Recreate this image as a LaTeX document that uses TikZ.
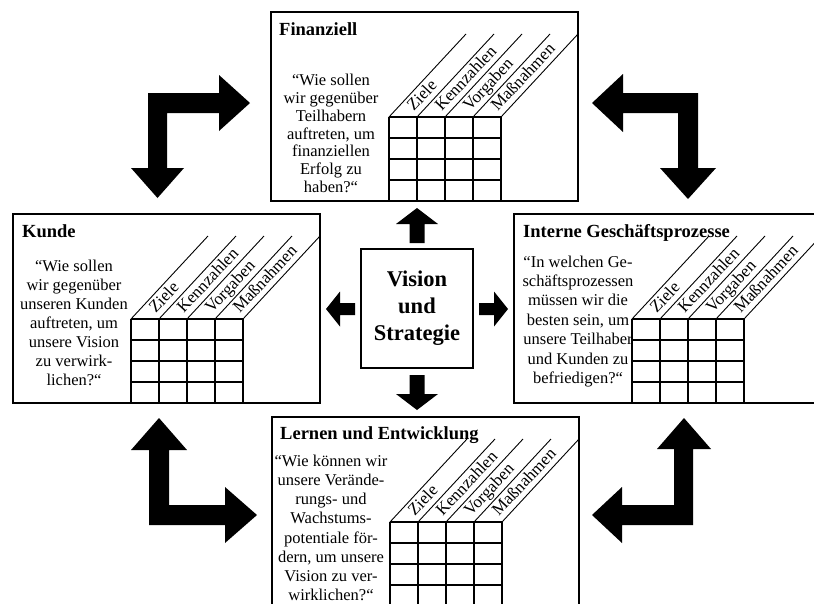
\documentclass[tikz,border=0pt]{standalone}
\usepackage{fontspec}
\setmainfont{Liberation Serif}
\begin{document}
\begin{tikzpicture}[x=1pt, y=-1pt,
        panel/.style={draw=black, line width=1.8pt},
        gridline/.style={draw=black, line width=1.8pt},
        slant/.style={draw=black, line width=0.9pt},
        colhead/.style={anchor=base west, inner sep=0pt, rotate=47, font=\fontsize{17}{18}\selectfont},
        paneltitle/.style={anchor=base west, inner sep=0pt, font=\bfseries\fontsize{18.5}{22}\selectfont},
        question/.style={anchor=north, inner sep=0pt, align=center},
        blockarrow/.style={fill=black},
        visionbox/.style={draw=black, line width=2pt, minimum width=112pt, minimum height=119pt, align=center, font=\bfseries\fontsize{22.5}{27}\selectfont}]
    \useasboundingbox (0,0) rectangle (814,603);
    \clip (0,0) rectangle (814,603);
    % the four perspectives with their tables
    \foreach \bx/\by in {271/12, 13/214, 514/214, 272/417}{
        \draw[panel] (\bx,\by) rectangle ++(307,189);
        \foreach \c in {0,...,4}{
            \draw[gridline] (\bx+118+28*\c,\by+105) -- ++(0,84);
            \draw[slant] (\bx+118+28*\c,\by+105) -- ++(77,-83);
        }
        \foreach \r in {0,...,4}
            \draw[gridline] (\bx+118,\by+105+21*\r) -- ++(112,0);
        \foreach \lab [count=\c from 0] in {Ziele,Kennzahlen,Vorgaben,Maßnahmen}
            \node[colhead] (head-\bx-\c) at (\bx+142.8+28*\c,\by+100) {\lab};
    }
    \node[paneltitle] (fintitle) at (279,35) {Finanziell};
    \node[paneltitle] (kundetitle) at (22,237) {Kunde};
    \node[paneltitle] (prozesstitle) at (523,237) {Interne Geschäftsprozesse};
    \node[paneltitle] (lerntitle) at (280,439) {Lernen und Entwicklung};
    \node[question, font=\fontsize{16.5}{17.9}\selectfont] (finq) at (331,73.7)
        {“Wie sollen\\wir gegenüber\\Teilhabern\\auftreten, um\\finanziellen\\Erfolg zu\\haben?“};
    \node[question, font=\fontsize{16.5}{19}\selectfont] (kundeq) at (74,259.4)
        {“Wie sollen\\wir gegenüber\\unseren Kunden\\auftreten, um\\unsere Vision\\zu verwirk-\\lichen?“};
    \node[question, font=\fontsize{16.5}{19.4}\selectfont] (prozessq) at (578,255.4)
        {“In welchen Ge-\\schäftsprozessen\\müssen wir die\\besten sein, um\\unsere Teilhaber\\und Kunden zu\\befriedigen?“};
    \node[question, font=\fontsize{16.5}{19.2}\selectfont] (lernq) at (331,454.7)
        {“Wie können wir\\unsere Verände-\\rungs- und\\Wachstums-\\potentiale för-\\dern, um unsere\\Vision zu ver-\\wirklichen?“};
    % centre
    \node[visionbox] (vision) at (417,308.5) {Vision\\und\\Strategie};
    \fill[blockarrow] (409.5,243) -- (409.5,224) -- (396,224) -- (417,208) -- (438,224) -- (424.5,224) -- (424.5,243) -- cycle;
    \fill[blockarrow] (409.5,375) -- (409.5,394) -- (396,394) -- (417,410) -- (438,394) -- (424.5,394) -- (424.5,375) -- cycle;
    \fill[blockarrow] (355,303) -- (340,303) -- (340,291.5) -- (326,309) -- (340,326.5) -- (340,315) -- (355,315) -- cycle;
    \fill[blockarrow] (479,303) -- (494,303) -- (494,291.5) -- (508,309) -- (494,326.5) -- (494,315) -- (479,315) -- cycle;
    % bent arrows between the perspectives
    \fill[blockarrow] (148,93) -- (219,93) -- (219,75) -- (250,103) -- (219,131) -- (219,113) -- (167,113) -- (167,168)
        -- (184,168) -- (157.5,198) -- (131,168) -- (148,168) -- cycle;
    \fill[blockarrow] (698,93) -- (623,93) -- (623,74) -- (592,103) -- (623,132) -- (623,113) -- (678,113) -- (678,168)
        -- (660,168) -- (688,199) -- (716,168) -- (698,168) -- cycle;
    \fill[blockarrow] (149,525) -- (149,450) -- (131,450) -- (159,418) -- (187,450) -- (169,450) -- (169,505) -- (225,505)
        -- (225,487) -- (257,515) -- (225,543) -- (225,525) -- cycle;
    \fill[blockarrow] (693,525) -- (693,449) -- (711,449) -- (684,418) -- (657,449) -- (674,449) -- (674,505) -- (622,505)
        -- (622,487) -- (592,515) -- (622,543) -- (622,525) -- cycle;
\end{tikzpicture}
\end{document}
